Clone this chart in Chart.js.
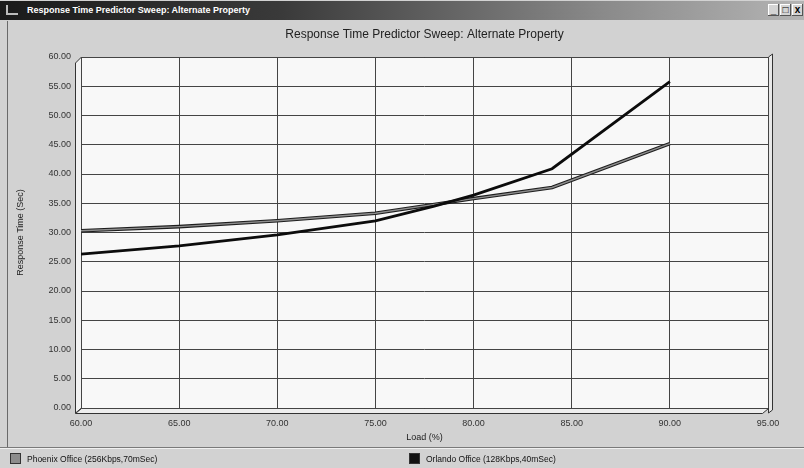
<!DOCTYPE html>
<html>
<head>
<meta charset="utf-8">
<script src="https://cdn.jsdelivr.net/npm/chart.js@4"></script>
<style>
  html, body { margin: 0; padding: 0; }
  body { width: 804px; height: 468px; position: relative; overflow: hidden; background: #d2d2d2; font-family: "Liberation Sans", Arial, sans-serif; }
  #titlebar { position: absolute; left: 0; top: 1px; width: 804px; height: 19px;
    background: linear-gradient(to right, #1a1a1a 0%, #3a3a3a 35%, #8a8a8a 75%, #b4b4b4 100%); }
  #titlebar .txt { position: absolute; left: 27px; top: 4px; color: #fff; font: bold 9px "Liberation Sans", Arial, sans-serif; }
  #titlebar .ico { position: absolute; left: 6px; top: 4px; width: 12px; height: 10px; border-left: 2px solid #bbb; border-bottom: 2px solid #bbb; box-sizing: border-box; }
  #btns { position: absolute; right: 1px; top: 3px; height: 13px; display: flex; gap: 1px; }
  #btns span { width: 11px; height: 12px; background: #d4d4d4; color: #000; font: bold 10px "Liberation Sans", Arial, sans-serif; line-height: 11px; text-align: center; box-shadow: inset -1px -1px 0 #555, inset 1px 1px 0 #fff; }
  #wrap { position: absolute; left: 0; top: 0; width: 804px; height: 468px; }
  #edge { position: absolute; left: 7px; top: 21px; width: 1px; height: 427px; background: #6a6a6a; }
  #legend { position: absolute; left: 0; top: 447px; width: 804px; height: 21px; border-top: 1px solid #7a7a7a; box-shadow: inset 0 1px 0 #f0f0f0; font-size: 8.5px; color: #111; }
  .item { position: absolute; top: 5px; display: flex; align-items: center; }
  .sw { width: 9px; height: 9px; border: 1px solid #333; margin-right: 6px; }
</style>
</head>
<body>
<div id="wrap"><canvas id="chart" width="804" height="468"></canvas></div>
<div id="titlebar"><div class="ico"></div><div class="txt">Response Time Predictor Sweep: Alternate Property</div>
  <div id="btns"><span>_</span><span>□</span><span>x</span></div></div>
<div id="edge"></div>
<div id="legend">
  <div class="item" style="left:10px"><div class="sw" style="background:#8c8c8c"></div><span id="lg0"></span></div>
  <div class="item" style="left:409px"><div class="sw" style="background:#111"></div><span id="lg1"></span></div>
</div>
<script>
const loads = [60, 65, 70, 75, 78, 80, 84, 90];
const phoenix = [30.3, 31.0, 32.0, 33.3, 34.8, 35.8, 37.7, 45.2];
const orlando = [26.3, 27.7, 29.6, 32.0, 34.5, 36.4, 40.9, 55.8];
const seriesNames = ['Phoenix Office (256Kbps,70mSec)', 'Orlando Office (128Kbps,40mSec)'];
const chartTitle = 'Response Time Predictor Sweep: Alternate Property';

document.getElementById('lg0').textContent = seriesNames[0];
document.getElementById('lg1').textContent = seriesNames[1];

const pts = (ys) => loads.map((x, i) => ({ x: x, y: ys[i] }));

// plot backdrop with the little 3D walls
const frame = {
  id: 'frame',
  beforeDraw(chart) {
    const { ctx, chartArea: a } = chart;
    const d = 6;
    ctx.save();
    ctx.fillStyle = '#f8f8f8';
    ctx.fillRect(a.left, a.top, a.right - a.left, a.bottom - a.top);
    ctx.strokeStyle = '#333';
    ctx.lineWidth = 1;
    // left wall
    ctx.fillStyle = '#f2f2f2';
    ctx.beginPath();
    ctx.moveTo(a.left - d + 0.5, a.top + d);
    ctx.lineTo(a.left + 0.5, a.top);
    ctx.lineTo(a.left + 0.5, a.bottom);
    ctx.lineTo(a.left - d + 0.5, a.bottom + d - 1);
    ctx.closePath();
    ctx.fill(); ctx.stroke();
    // floor
    ctx.fillStyle = '#eeeeee';
    ctx.beginPath();
    ctx.moveTo(a.left - d + 0.5, a.bottom + d - 0.5);
    ctx.lineTo(a.left + 0.5, a.bottom + 0.5);
    ctx.lineTo(a.right + 0.5, a.bottom + 0.5);
    ctx.lineTo(a.right - d + 0.5, a.bottom + d - 0.5);
    ctx.closePath();
    ctx.fill(); ctx.stroke();
    // right edge strip
    ctx.fillStyle = '#e8e8e8';
    ctx.beginPath();
    ctx.moveTo(a.right + 0.5, a.top);
    ctx.lineTo(a.right + 4.5, a.top - 3);
    ctx.lineTo(a.right + 4.5, a.bottom + 2);
    ctx.lineTo(a.right + 0.5, a.bottom + 5);
    ctx.closePath();
    ctx.fill(); ctx.stroke();
    ctx.beginPath();
    ctx.moveTo(a.left + 0.5, a.top + 0.5);
    ctx.lineTo(a.right + 0.5, a.top + 0.5);
    ctx.lineTo(a.right + 0.5, a.bottom + 0.5);
    ctx.stroke();
    ctx.restore();
  },
  afterDraw(chart) {
    // title centred over the plot, not the whole canvas
    const { ctx, chartArea: a } = chart;
    ctx.save();
    ctx.fillStyle = '#222';
    ctx.font = '12px "Liberation Sans", Arial, sans-serif';
    ctx.textAlign = 'center';
    ctx.textBaseline = 'middle';
    ctx.fillText(chartTitle, (a.left + a.right) / 2, 35);
    ctx.restore();
  }
};

const tickFont = { family: '"Liberation Sans", Arial, sans-serif', size: 9 };

new Chart(document.getElementById('chart'), {
  type: 'line',
  data: {
    datasets: [
      { label: seriesNames[0], data: pts(phoenix), borderColor: '#1e1e1e', borderWidth: 3.6, pointRadius: 0, tension: 0, order: 2 },
      { label: seriesNames[0] + ' ', data: pts(phoenix), borderColor: '#8e8e8e', borderWidth: 1.4, pointRadius: 0, tension: 0, order: 1 },
      { label: seriesNames[1], data: pts(orlando), borderColor: '#0c0c0c', borderWidth: 2.8, pointRadius: 0, tension: 0, order: 0 }
    ]
  },
  options: {
    responsive: false,
    animation: false,
    layout: { padding: { left: 8, right: 36, top: 57, bottom: 21 } },
    plugins: {
      legend: { display: false },
      tooltip: { enabled: false },
      title: { display: false }
    },
    scales: {
      x: {
        type: 'linear', min: 60, max: 95,
        ticks: { stepSize: 5, color: '#333', font: tickFont, padding: 10, maxRotation: 0,
          callback: (v) => Number(v).toFixed(2) },
        grid: { color: '#444', drawTicks: false },
        border: { display: false },
        title: { display: true, text: 'Load (%)', color: '#222', font: tickFont, padding: { top: 4, bottom: 4 } },
        afterFit(s) { s.height = 39; }
      },
      y: {
        min: 0, max: 60,
        ticks: { stepSize: 5, color: '#333', font: tickFont, padding: 10,
          callback: (v) => Number(v).toFixed(2) },
        grid: { color: '#444', drawTicks: false },
        border: { display: false },
        title: { display: true, text: 'Response Time (Sec)', color: '#222', font: tickFont, padding: { top: 7, bottom: 0 } },
        afterFit(s) { s.width = 73; }
      }
    }
  },
  plugins: [frame]
});
</script>
</body>
</html>
